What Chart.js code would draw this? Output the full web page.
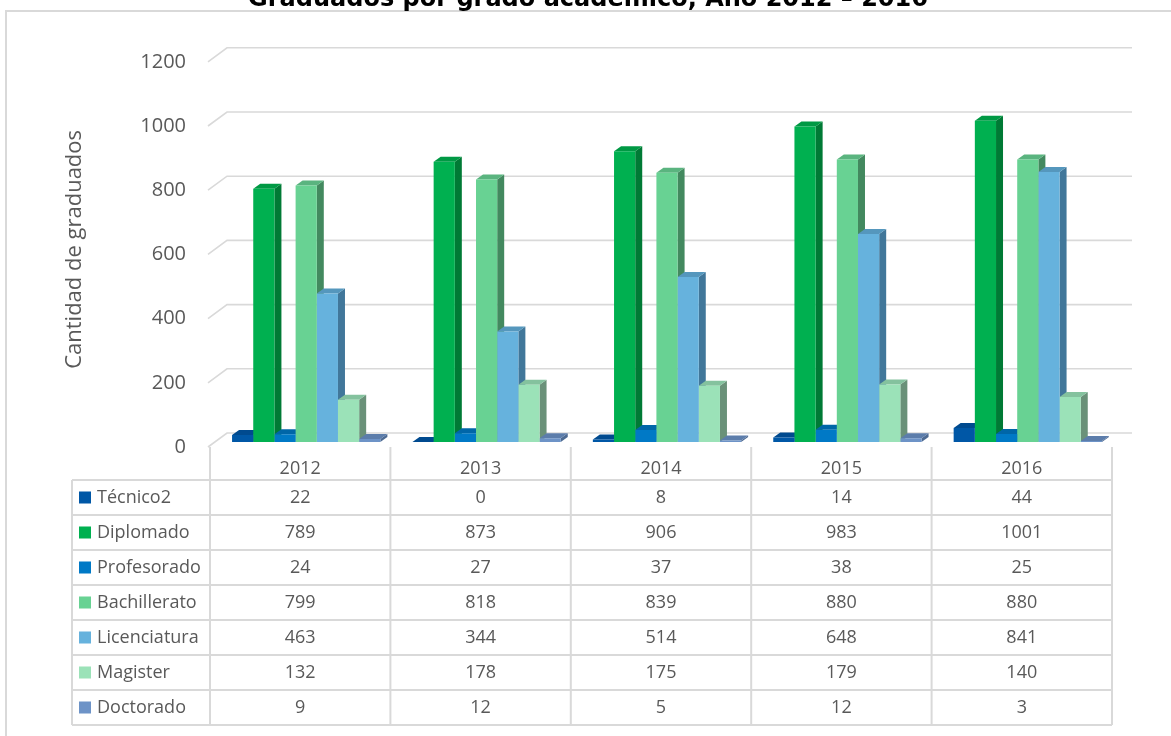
<!DOCTYPE html>
<html lang="es">
<head>
    <meta charset="UTF-8">
    <title>Graduados por grado académico</title>
    <script src="https://cdn.jsdelivr.net/npm/chart.js"></script>
    <style>
        body { margin: 0; background: #fff; }
        canvas { display: block; }
    </style>
</head>
<body>
    <canvas id="grafico" width="1171" height="736"></canvas>

    <script>
        // Datos del gráfico
        const anios = ['2012', '2013', '2014', '2015', '2016'];
        const grados = ['Técnico2', 'Diplomado', 'Profesorado', 'Bachillerato', 'Licenciatura', 'Magister', 'Doctorado'];
        const tecnico = [22, 0, 8, 14, 44];
        const diplomado = [789, 873, 906, 983, 1001];
        const profesorado = [24, 27, 37, 38, 25];
        const bachillerato = [799, 818, 839, 880, 880];
        const licenciatura = [463, 344, 514, 648, 841];
        const magister = [132, 178, 175, 179, 140];
        const doctorado = [9, 12, 5, 12, 3];
        const series = [tecnico, diplomado, profesorado, bachillerato, licenciatura, magister, doctorado];

        // colores: frente, arriba, lado
        const colores = [
            ['#0057a6', '#004a8f', '#003d78'],
            ['#00b050', '#009944', '#007a35'],
            ['#0079c6', '#0066a8', '#00558c'],
            ['#68d293', '#5ab47f', '#43895f'],
            ['#66b2dd', '#5597bd', '#41779a'],
            ['#9be2b8', '#84c29e', '#6a9179'],
            ['#6d93c7', '#5c7dab', '#4d6a92']
        ];

        const gris = '#595959';
        const linea = '#d9d9d9';
        const DX = 7, DY = 5; // profundidad de las barras

        Chart.defaults.font.family = "'Open Sans', sans-serif";
        Chart.defaults.color = gris;

        const efecto3d = {
            id: 'efecto3d',
            beforeDraw(chart) {
                const ctx = chart.ctx;
                const y = chart.scales.y;
                const area = chart.chartArea;
                ctx.save();
                // marco
                ctx.strokeStyle = linea;
                ctx.lineWidth = 2;
                ctx.beginPath();
                ctx.moveTo(6, 736);
                ctx.lineTo(6, 11);
                ctx.lineTo(1171, 11);
                ctx.stroke();
                // pared del fondo
                ctx.lineWidth = 1.6;
                y.ticks.forEach(t => {
                    const py = y.getPixelForValue(t.value);
                    ctx.beginPath();
                    ctx.moveTo(area.left - 8, py + 5);
                    ctx.lineTo(area.left + 11, py - 9);
                    ctx.lineTo(area.right + 14, py - 9);
                    ctx.stroke();
                });
                ctx.restore();
            },
            beforeDatasetsDraw(chart) {
                const ctx = chart.ctx;
                ctx.save();
                for (let i = 0; i < anios.length; i++) {
                    series.forEach((s, d) => {
                        const bar = chart.getDatasetMeta(d).data[i];
                        const p = bar.getProps(['x', 'y', 'base', 'width'], true);
                        const xl = p.x - p.width / 2, xr = p.x + p.width / 2;
                        // lado
                        ctx.fillStyle = colores[d][2];
                        ctx.beginPath();
                        ctx.moveTo(xr, p.y);
                        ctx.lineTo(xr + DX, p.y - DY);
                        ctx.lineTo(xr + DX, p.base - DY);
                        ctx.lineTo(xr, p.base);
                        ctx.closePath();
                        ctx.fill();
                        // arriba
                        ctx.fillStyle = colores[d][1];
                        ctx.beginPath();
                        ctx.moveTo(xl, p.y);
                        ctx.lineTo(xr, p.y);
                        ctx.lineTo(xr + DX, p.y - DY);
                        ctx.lineTo(xl + DX, p.y - DY);
                        ctx.closePath();
                        ctx.fill();
                    });
                }
                ctx.restore();
            },
            afterDraw(chart) {
                // tabla de datos
                const ctx = chart.ctx;
                const x = chart.scales.x;
                const area = chart.chartArea;
                const colW = (x.right - x.left) / anios.length;
                const top = area.bottom + 5;
                const headH = 33, rowH = 35;
                const filasTop = top + headH;
                const izq = 72;
                const bordes = anios.map((a, i) => x.getPixelForValue(i) - 6 - colW / 2);
                const derecha = bordes[bordes.length - 1] + colW;
                const fondo = filasTop + rowH * grados.length;

                ctx.save();
                ctx.strokeStyle = linea;
                ctx.lineWidth = 2;
                ctx.beginPath();
                bordes.concat([derecha]).forEach(bx => {
                    ctx.moveTo(bx, top);
                    ctx.lineTo(bx, fondo);
                });
                ctx.moveTo(izq, filasTop);
                ctx.lineTo(izq, fondo);
                for (let r = 0; r <= grados.length; r++) {
                    ctx.moveTo(izq, filasTop + r * rowH);
                    ctx.lineTo(derecha, filasTop + r * rowH);
                }
                ctx.stroke();

                ctx.font = "18px 'Open Sans', sans-serif";
                ctx.fillStyle = gris;
                ctx.textBaseline = 'middle';
                ctx.textAlign = 'center';
                anios.forEach((a, i) => {
                    ctx.fillText(a, bordes[i] + colW / 2, top + headH / 2 + 5);
                });
                grados.forEach((g, r) => {
                    const cy = filasTop + r * rowH + rowH / 2;
                    ctx.fillStyle = colores[r][0];
                    ctx.fillRect(79, cy - 6, 12, 12);
                    ctx.fillStyle = gris;
                    ctx.textAlign = 'left';
                    ctx.fillText(g, 97, cy);
                    ctx.textAlign = 'center';
                    series[r].forEach((v, i) => {
                        ctx.fillText(String(v), bordes[i] + colW / 2, cy);
                    });
                });
                ctx.restore();
            }
        };

        new Chart(document.getElementById('grafico'), {
            type: 'bar',
            data: {
                labels: anios,
                datasets: grados.map((g, d) => ({
                    label: g,
                    data: series[d],
                    backgroundColor: colores[d][0],
                    borderWidth: 0,
                    categoryPercentage: 0.822,
                    barPercentage: 1
                }))
            },
            options: {
                responsive: false,
                animation: false,
                layout: { padding: { left: 5, right: 0, top: 0, bottom: 294 } },
                plugins: {
                    legend: { display: false },
                    tooltip: { enabled: false },
                    title: {
                        display: true,
                        text: 'Graduados por grado académico, Año 2012 – 2016',
                        color: '#000',
                        font: { family: "'DejaVu Sans', Verdana, sans-serif", size: 24, weight: 'bold' },
                        padding: { top: -15, bottom: 43 }
                    }
                },
                scales: {
                    x: { display: false },
                    y: {
                        min: 0,
                        max: 1200,
                        border: { display: false },
                        grid: { display: false, drawTicks: false },
                        ticks: {
                            stepSize: 200, padding: 30, labelOffset: 5,
                            font: { size: 20 }, color: gris,
                            callback: v => String(v)
                        },
                        title: {
                            display: true,
                            text: 'Cantidad de graduados',
                            color: gris,
                            font: { size: 22 },
                            padding: { top: 57, bottom: 0 }
                        },
                        afterFit(scale) { scale.width = 211; }
                    },
                    // eje vacío a la derecha, sólo reserva el margen
                    derecha: {
                        type: 'linear',
                        position: 'right',
                        border: { display: false },
                        grid: { display: false, drawTicks: false },
                        ticks: { display: false },
                        afterFit(scale) { scale.width = 53; }
                    }
                }
            },
            plugins: [efecto3d]
        });
    </script>
</body>
</html>
